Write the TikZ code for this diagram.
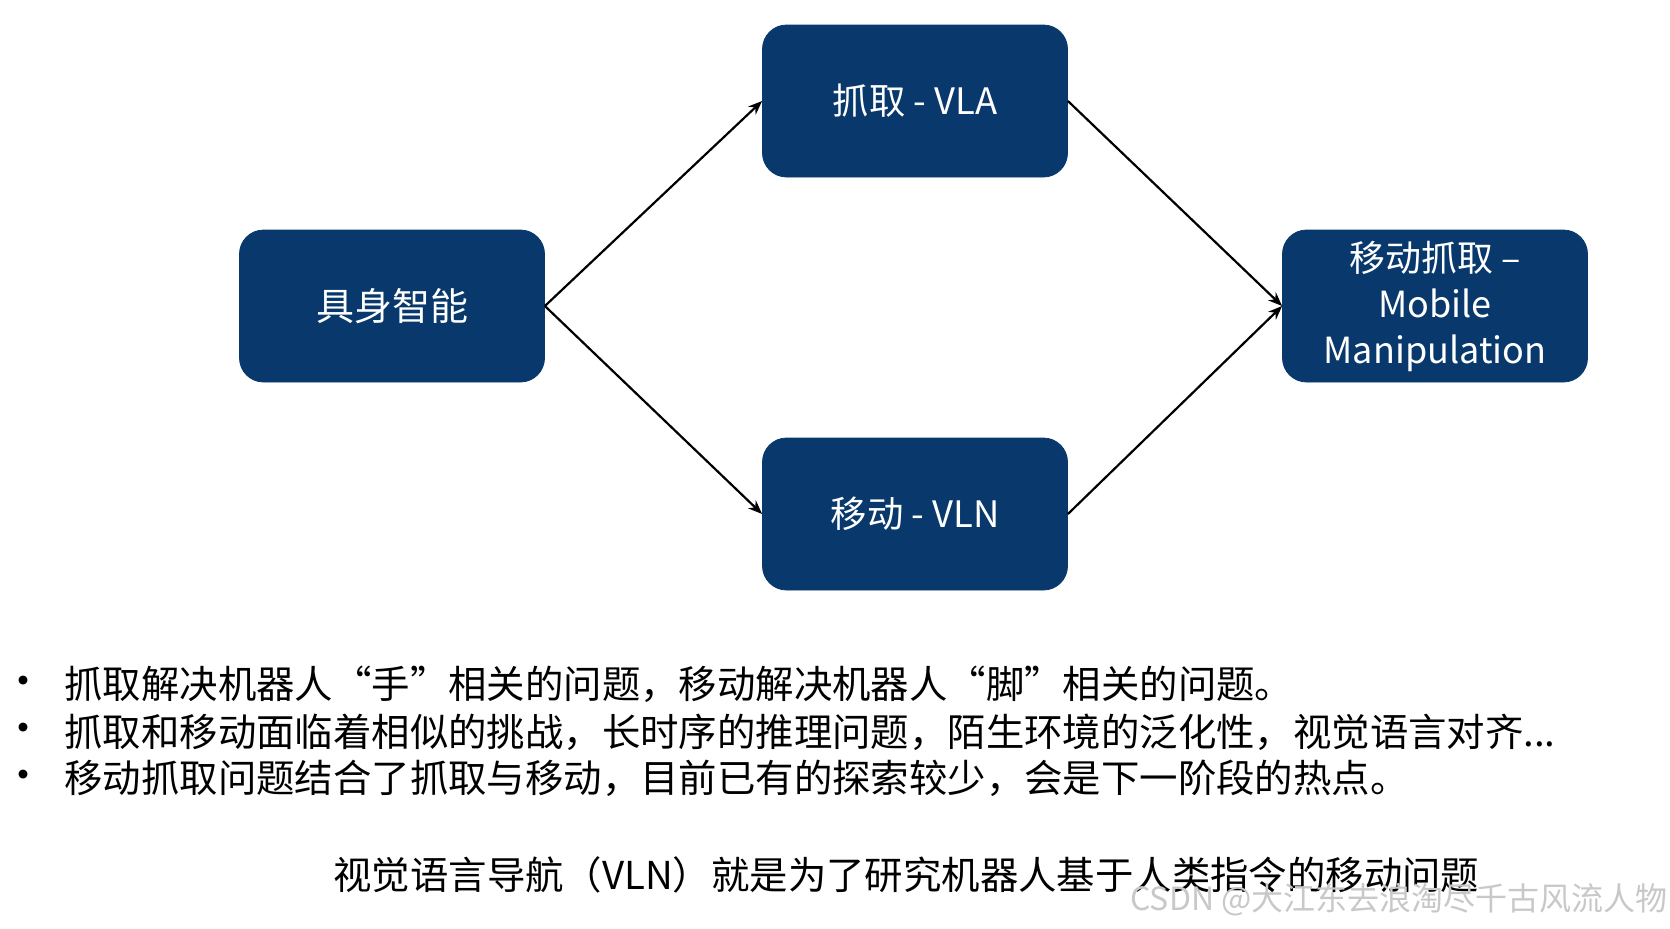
\documentclass[tikz,border=0pt]{standalone}
\usepackage{fontspec}
\setmainfont{Noto Sans CJK SC}
\usetikzlibrary{arrows.meta}

\definecolor{boxblue}{RGB}{8,56,108}
\definecolor{markgray}{RGB}{200,200,200}

\tikzset{
  bluebox/.style={draw=boxblue,fill=boxblue,rounded corners=12pt,minimum width=152.5pt,
                  minimum height=76pt,inner sep=0pt,text=white,align=center},
  link/.style={line width=1.1pt,-{Stealth[length=7pt,width=5.5pt]}},
  textline/.style={anchor=west,inner sep=0pt,font=\fontsize{19.2pt}{23pt}\selectfont},
  bulletdot/.style={inner sep=0pt,font=\fontsize{21pt}{21pt}\selectfont}
}

\begin{document}
\begin{tikzpicture}[x=0.5pt,y=-0.5pt]
                    \useasboundingbox (0,0) rectangle (1670,928);

                    % boxes
                    \node[bluebox,font=\fontsize{19pt}{23pt}\selectfont] (emb) at (392,306) {具身智能};
                    \node[bluebox,font=\fontsize{18.2pt}{21pt}\selectfont] (vla) at (915,101) {抓取 - VLA};
                    \node[bluebox,font=\fontsize{18.2pt}{21pt}\selectfont] (vln) at (915,514) {移动 - VLN};
                    \node[bluebox,font=\fontsize{18pt}{23pt}\selectfont] (mm) at (1435,306) {移动抓取 –\\Mobile\\Manipulation};

                    % arrows
                    \draw[link] (emb.east) -- (vla.west);
                    \draw[link] (emb.east) -- (vln.west);
                    \draw[link] (vla.east) -- (mm.west);
                    \draw[link] (vln.east) -- (mm.west);

                    % bullet list
                    \node[bulletdot] (b1) at (24,686) {•};
                    \node[bulletdot] (b2) at (24,733) {•};
                    \node[bulletdot] (b3) at (24,780) {•};
                    \node[textline] (t1) at (64,684) {抓取解决机器人“手”相关的问题，移动解决机器人“脚”相关的问题。};
                    \node[textline] (t2) at (64,732) {抓取和移动面临着相似的挑战，长时序的推理问题，陌生环境的泛化性，视觉语言对齐...};
                    \node[textline] (t3) at (64,778) {移动抓取问题结合了抓取与移动，目前已有的探索较少，会是下一阶段的热点。};

                    \node[textline] (vlnline) at (333,875) {视觉语言导航（VLN）就是为了研究机器人基于人类指令的移动问题};
                    \node[anchor=east,inner sep=0pt,text=markgray,font=\fontsize{16pt}{19pt}\selectfont] (mark) at (1668,900) {CSDN @大江东去浪淘尽千古风流人物};

                \end{tikzpicture}
\end{document}
